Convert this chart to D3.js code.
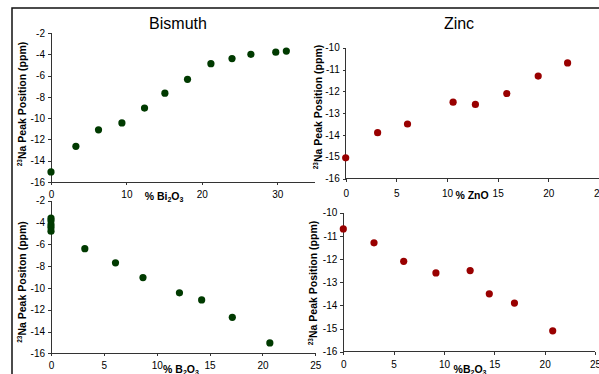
<!DOCTYPE html>
<html lang="en">
<head>
<meta charset="UTF-8">
<title>Bismuth / Zinc 23Na peak position</title>
<style>
  body { margin: 0; background: #fff; font-family: "Liberation Sans", Arial, sans-serif; }
  svg { display: block; }
  .tick text { font-size: 10px; fill: #000; font-family: "Liberation Sans", Arial, sans-serif; }
  .axis path, .axis line { stroke: #333; shape-rendering: crispEdges; }
  .ttl { font-size: 16px; }
  .lbl { font-size: 10.5px; font-weight: bold; }
</style>
</head>
<body>
<svg id="chart" width="599" height="374"></svg>
<script src="https://d3js.org/d3.v7.min.js"></script>
<script>
// top-left: Bismuth vs % Bi2O3
const biOxide = [0, 3.3, 6.3, 9.4, 12.4, 15.1, 18.1, 21.2, 24.0, 26.5, 29.8, 31.2];
const biShift = [-15.05, -12.65, -11.1, -10.45, -9.05, -7.65, -6.35, -4.88, -4.4, -4.0, -3.8, -3.7];

// top-right: Zinc vs % ZnO
const znOxide = [0, 3.15, 6.1, 10.6, 12.8, 15.9, 19.0, 21.9];
const znShift = [-15.05, -13.9, -13.5, -12.5, -12.6, -12.1, -11.3, -10.7];

// bottom-left: Bismuth vs % B2O3
const biBoron = [0, 0, 0, 0, 0, 3.2, 6.1, 8.7, 12.15, 14.25, 17.15, 20.7];
const biBoronShift = [-3.6, -3.85, -4.2, -4.45, -4.8, -6.4, -7.7, -9.05, -10.45, -11.1, -12.7, -15.05];

// bottom-right: Zinc vs % B2O3
const znBoron = [0, 3.05, 6.0, 9.2, 12.6, 14.5, 17.0, 20.8];
const znBoronShift = [-10.7, -11.3, -12.1, -12.6, -12.5, -13.5, -13.9, -15.1];

const ticksX10 = [0, 10, 20, 30];
const ticksX5 = [0, 5, 10, 15, 20, 25];
const ticksY2 = [-16, -14, -12, -10, -8, -6, -4, -2];
const ticksY1 = [-16, -15, -14, -13, -12, -11, -10];

const GREEN = '#003a00';
const RED = '#990000';

const svg = d3.select('#chart');
const plain = d => String(d); // hyphen minus, no decimals, like the original

// outer frame (left and top edge only are visible)
svg.append('path')
  .attr('d', 'M12,374 V8 H599')
  .attr('fill', 'none')
  .attr('stroke', '#111')
  .attr('stroke-width', 1.5);

function panel(p) {
  const x = d3.scaleLinear().domain(p.xDomain).range(p.xRange);
  const y = d3.scaleLinear().domain(p.yDomain).range(p.yRange);
  const g = svg.append('g');

  const xAxis = g.append('g')
    .attr('class', 'axis')
    .attr('transform', `translate(0,${p.yRange[0]})`)
    .call(d3.axisBottom(x).tickValues(p.xTicks).tickFormat(plain).tickSize(3).tickPadding(p.xPad));
  xAxis.select('.domain').attr('d', `M${p.xRange[0]},0H${p.xRange[1]}`);

  const yAxis = g.append('g')
    .attr('class', 'axis')
    .attr('transform', `translate(${p.xRange[0]},0)`)
    .call(d3.axisLeft(y).tickValues(p.yTicks).tickFormat(plain).tickSize(3).tickPadding(3));
  yAxis.select('.domain').attr('d', `M0,${p.yRange[0]}V${p.yRange[1]}`);

  g.selectAll('circle.pt')
    .data(p.xs.map((v, i) => [v, p.ys[i]]))
    .enter().append('circle')
    .attr('class', 'pt')
    .attr('cx', d => x(d[0]))
    .attr('cy', d => y(d[1]))
    .attr('r', 3.6)
    .attr('fill', p.color);

  if (p.title) {
    g.append('text').attr('class', 'ttl')
      .attr('x', p.title[1]).attr('y', p.title[2])
      .attr('text-anchor', 'middle')
      .text(p.title[0]);
  }

  // x-axis title with subscripts
  const xt = g.append('text').attr('class', 'lbl')
    .attr('x', p.xLabelPos[0]).attr('y', p.xLabelPos[1])
    .attr('text-anchor', 'middle');
  p.xLabel.forEach(part => {
    const t = xt.append('tspan').text(part[0]);
    if (part[1]) t.attr('font-size', '7px').attr('baseline-shift', '-2');
  });

  // y-axis title: superscript 23 + rest
  const yt = g.append('text').attr('class', 'lbl')
    .attr('transform', `translate(${p.yLabelPos[0]},${p.yLabelPos[1]}) rotate(-90)`)
    .attr('text-anchor', 'middle');
  yt.append('tspan').attr('font-size', '6.5px').attr('baseline-shift', '4').text('23');
  yt.append('tspan').text(p.yLabel);
}

panel({
  xs: biOxide, ys: biShift, color: GREEN,
  xDomain: [0, 35], xRange: [51, 315], xTicks: ticksX10, xPad: 6,
  yDomain: [-16, -2], yRange: [182, 33], yTicks: ticksY2,
  title: ['Bismuth', 178, 29],
  xLabel: [['% Bi'], ['2', true], ['O'], ['3', true]], xLabelPos: [164, 200],
  yLabel: 'Na Peak Position (ppm)', yLabelPos: [26, 104]
});

panel({
  xs: znOxide, ys: znShift, color: RED,
  xDomain: [0, 25], xRange: [345.7, 599], xTicks: ticksX5, xPad: 8,
  yDomain: [-16, -10], yRange: [178.5, 47.7], yTicks: ticksY1,
  title: ['Zinc', 459, 29],
  xLabel: [['% ZnO']], xLabelPos: [472, 199],
  yLabel: 'Na Peak Position (ppm)', yLabelPos: [322, 107]
});

panel({
  xs: biBoron, ys: biBoronShift, color: GREEN,
  xDomain: [0, 25], xRange: [51, 315.3], xTicks: ticksX5, xPad: 6,
  yDomain: [-16, -2], yRange: [353.3, 200.7], yTicks: ticksY2,
  xLabel: [['% B'], ['2', true], ['O'], ['3', true]], xLabelPos: [181, 373],
  yLabel: 'Na Peak Positon (ppm)', yLabelPos: [26, 282]
});

panel({
  xs: znBoron, ys: znBoronShift, color: RED,
  xDomain: [0, 25], xRange: [343.3, 595], xTicks: ticksX5, xPad: 6,
  yDomain: [-16, -10], yRange: [351.7, 212.7], yTicks: ticksY1,
  xLabel: [['%B'], ['2', true], ['O'], ['3', true]], xLabelPos: [470, 373],
  yLabel: 'Na Peak Position (ppm)', yLabelPos: [317, 283]
});
</script>
</body>
</html>
